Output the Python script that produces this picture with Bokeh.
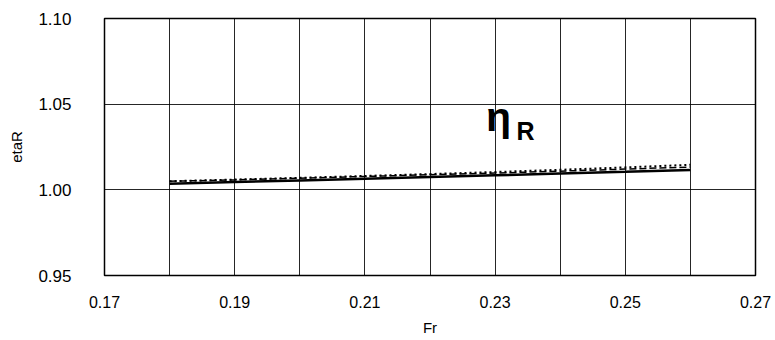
from bokeh.plotting import figure
from bokeh.models import FixedTicker, Range1d, Label, CustomJSTickFormatter
from bokeh.embed import file_html
from bokeh.resources import INLINE

fr = [0.18, 0.19, 0.20, 0.21, 0.22, 0.23, 0.24, 0.25, 0.26]
eta_solid = [1.0035, 1.0045, 1.0055, 1.0065, 1.0075, 1.0085, 1.0095, 1.0105, 1.0116]
eta_dashed = [1.0050, 1.0058, 1.0068, 1.0078, 1.0088, 1.0098, 1.0109, 1.0121, 1.0133]
eta_dotted = [1.0050, 1.0060, 1.0070, 1.0081, 1.0092, 1.0104, 1.0117, 1.0131, 1.0146]

x_grid_ticks = [0.17, 0.18, 0.19, 0.20, 0.21, 0.22, 0.23, 0.24, 0.25, 0.26, 0.27]
x_label_ticks = [0.17, 0.19, 0.21, 0.23, 0.25, 0.27]
y_ticks = [0.95, 1.00, 1.05, 1.10]

p = figure(width=775, height=338, output_backend="svg", toolbar_location=None,
           x_range=Range1d(0.17, 0.27), y_range=Range1d(0.95, 1.10),
           min_border_left=104, min_border_right=20, min_border_top=18, min_border_bottom=60)
p.outline_line_color = "black"
p.outline_line_width = 1.5
p.background_fill_color = "white"
p.border_fill_color = "white"

p.xaxis.ticker = FixedTicker(ticks=x_label_ticks)
p.yaxis.ticker = FixedTicker(ticks=y_ticks)
p.xgrid.ticker = FixedTicker(ticks=x_grid_ticks)
p.ygrid.ticker = FixedTicker(ticks=y_ticks)
p.xaxis.formatter = CustomJSTickFormatter(code="return tick.toFixed(2);")
p.yaxis.formatter = CustomJSTickFormatter(code="return tick.toFixed(2);")

for g in (p.xgrid, p.ygrid):
    g.grid_line_color = "black"
    g.grid_line_width = 1
    g.grid_line_alpha = 0.85

for ax in (p.xaxis, p.yaxis):
    ax.axis_line_color = None
    ax.major_tick_line_color = None
    ax.minor_tick_line_color = None
    ax.major_label_text_color = "black"
    ax.axis_label_text_color = "black"
    ax.axis_label_text_font_style = "normal"

p.xaxis.major_label_text_font = "Liberation Sans"
p.xaxis.major_label_text_font_size = "16px"
p.xaxis.major_label_standoff = 14
p.xaxis.axis_label = "Fr"
p.xaxis.axis_label_text_font = "Liberation Sans"
p.xaxis.axis_label_text_font_size = "15px"
p.xaxis.axis_label_standoff = 8

p.yaxis.major_label_text_font = "Liberation Sans"
p.yaxis.major_label_text_font_size = "17px"
p.yaxis.major_label_standoff = 27
p.yaxis.axis_label = "etaR"
p.yaxis.axis_label_text_font = "Liberation Sans"
p.yaxis.axis_label_text_font_size = "15px"
p.yaxis.axis_label_standoff = 10

p.line(fr, eta_dotted, line_color="black", line_width=2, line_dash="2 3")
p.line(fr, eta_dashed, line_color="black", line_width=1.5, line_dash="7 3")
p.line(fr, eta_solid, line_color="black", line_width=2.5)

eta_label_x, eta_label_y = 0.2286, 1.0425
sub_label_x, sub_label_y = 0.2333, 1.0344
p.add_layout(Label(x=eta_label_x, y=eta_label_y, text="η", text_font="Liberation Sans",
                   text_font_size="41px", text_font_style="bold", text_color="black",
                   text_baseline="alphabetic"))
p.add_layout(Label(x=sub_label_x, y=sub_label_y, text="R", text_font="Liberation Sans",
                   text_font_size="25px", text_font_style="bold", text_color="black",
                   text_baseline="alphabetic"))

open("out.html", "w").write(file_html(p, INLINE))
